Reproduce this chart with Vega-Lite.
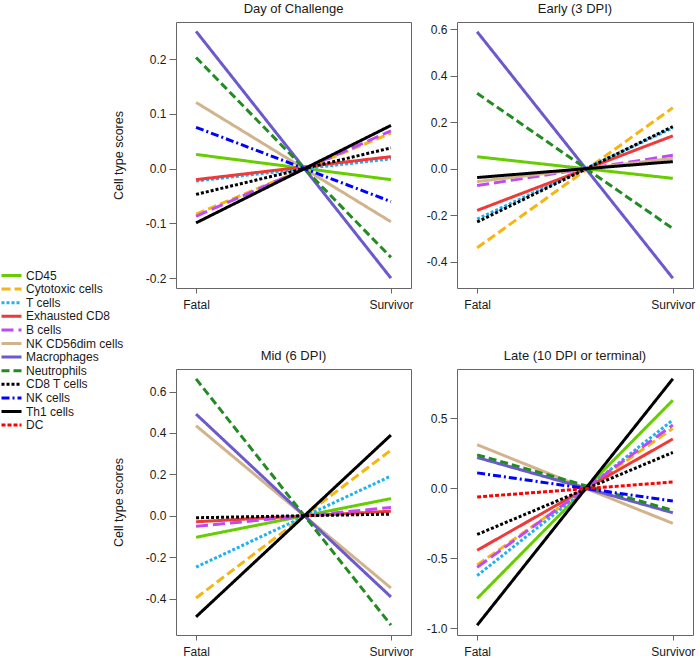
{
  "$schema": "https://vega.github.io/schema/vega-lite/v6.json",
  "padding": {"left": 0, "top": 2, "right": 0, "bottom": 0},
  "bounds": "flush",
  "columns": 2,
  "spacing": {"row": 81, "column": 46},
  "background": "white",
  "data": {"values": [
    {"panel": "P1", "cell": "CD45", "outcome": "Fatal", "score": 0.026},
    {"panel": "P1", "cell": "CD45", "outcome": "Survivor", "score": -0.020},
    {"panel": "P1", "cell": "Cytotoxic cells", "outcome": "Fatal", "score": -0.083},
    {"panel": "P1", "cell": "Cytotoxic cells", "outcome": "Survivor", "score": 0.065},
    {"panel": "P1", "cell": "T cells", "outcome": "Fatal", "score": -0.0225},
    {"panel": "P1", "cell": "T cells", "outcome": "Survivor", "score": 0.018},
    {"panel": "P1", "cell": "Exhausted CD8", "outcome": "Fatal", "score": -0.020},
    {"panel": "P1", "cell": "Exhausted CD8", "outcome": "Survivor", "score": 0.022},
    {"panel": "P1", "cell": "B cells", "outcome": "Fatal", "score": -0.087},
    {"panel": "P1", "cell": "B cells", "outcome": "Survivor", "score": 0.069},
    {"panel": "P1", "cell": "NK CD56dim cells", "outcome": "Fatal", "score": 0.121},
    {"panel": "P1", "cell": "NK CD56dim cells", "outcome": "Survivor", "score": -0.097},
    {"panel": "P1", "cell": "Macrophages", "outcome": "Fatal", "score": 0.251},
    {"panel": "P1", "cell": "Macrophages", "outcome": "Survivor", "score": -0.200},
    {"panel": "P1", "cell": "Neutrophils", "outcome": "Fatal", "score": 0.203},
    {"panel": "P1", "cell": "Neutrophils", "outcome": "Survivor", "score": -0.162},
    {"panel": "P1", "cell": "CD8 T cells", "outcome": "Fatal", "score": -0.047},
    {"panel": "P1", "cell": "CD8 T cells", "outcome": "Survivor", "score": 0.038},
    {"panel": "P1", "cell": "NK cells", "outcome": "Fatal", "score": 0.0755},
    {"panel": "P1", "cell": "NK cells", "outcome": "Survivor", "score": -0.060},
    {"panel": "P1", "cell": "Th1 cells", "outcome": "Fatal", "score": -0.099},
    {"panel": "P1", "cell": "Th1 cells", "outcome": "Survivor", "score": 0.079},

    {"panel": "P2", "cell": "CD45", "outcome": "Fatal", "score": 0.051},
    {"panel": "P2", "cell": "CD45", "outcome": "Survivor", "score": -0.042},
    {"panel": "P2", "cell": "Cytotoxic cells", "outcome": "Fatal", "score": -0.341},
    {"panel": "P2", "cell": "Cytotoxic cells", "outcome": "Survivor", "score": 0.262},
    {"panel": "P2", "cell": "T cells", "outcome": "Fatal", "score": -0.217},
    {"panel": "P2", "cell": "T cells", "outcome": "Survivor", "score": 0.175},
    {"panel": "P2", "cell": "Exhausted CD8", "outcome": "Fatal", "score": -0.180},
    {"panel": "P2", "cell": "Exhausted CD8", "outcome": "Survivor", "score": 0.141},
    {"panel": "P2", "cell": "B cells", "outcome": "Fatal", "score": -0.073},
    {"panel": "P2", "cell": "B cells", "outcome": "Survivor", "score": 0.057},
    {"panel": "P2", "cell": "NK CD56dim cells", "outcome": "Fatal", "score": -0.056},
    {"panel": "P2", "cell": "NK CD56dim cells", "outcome": "Survivor", "score": 0.044},
    {"panel": "P2", "cell": "Macrophages", "outcome": "Fatal", "score": 0.589},
    {"panel": "P2", "cell": "Macrophages", "outcome": "Survivor", "score": -0.472},
    {"panel": "P2", "cell": "Neutrophils", "outcome": "Fatal", "score": 0.324},
    {"panel": "P2", "cell": "Neutrophils", "outcome": "Survivor", "score": -0.258},
    {"panel": "P2", "cell": "CD8 T cells", "outcome": "Fatal", "score": -0.230},
    {"panel": "P2", "cell": "CD8 T cells", "outcome": "Survivor", "score": 0.181},
    {"panel": "P2", "cell": "Th1 cells", "outcome": "Fatal", "score": -0.0385},
    {"panel": "P2", "cell": "Th1 cells", "outcome": "Survivor", "score": 0.030},

    {"panel": "P3", "cell": "CD45", "outcome": "Fatal", "score": -0.104},
    {"panel": "P3", "cell": "CD45", "outcome": "Survivor", "score": 0.083},
    {"panel": "P3", "cell": "Cytotoxic cells", "outcome": "Fatal", "score": -0.397},
    {"panel": "P3", "cell": "Cytotoxic cells", "outcome": "Survivor", "score": 0.317},
    {"panel": "P3", "cell": "T cells", "outcome": "Fatal", "score": -0.248},
    {"panel": "P3", "cell": "T cells", "outcome": "Survivor", "score": 0.192},
    {"panel": "P3", "cell": "Exhausted CD8", "outcome": "Fatal", "score": -0.029},
    {"panel": "P3", "cell": "Exhausted CD8", "outcome": "Survivor", "score": 0.022},
    {"panel": "P3", "cell": "B cells", "outcome": "Fatal", "score": -0.051},
    {"panel": "P3", "cell": "B cells", "outcome": "Survivor", "score": 0.040},
    {"panel": "P3", "cell": "NK CD56dim cells", "outcome": "Fatal", "score": 0.435},
    {"panel": "P3", "cell": "NK CD56dim cells", "outcome": "Survivor", "score": -0.349},
    {"panel": "P3", "cell": "Macrophages", "outcome": "Fatal", "score": 0.491},
    {"panel": "P3", "cell": "Macrophages", "outcome": "Survivor", "score": -0.392},
    {"panel": "P3", "cell": "Neutrophils", "outcome": "Fatal", "score": 0.661},
    {"panel": "P3", "cell": "Neutrophils", "outcome": "Survivor", "score": -0.528},
    {"panel": "P3", "cell": "CD8 T cells", "outcome": "Fatal", "score": -0.0096},
    {"panel": "P3", "cell": "CD8 T cells", "outcome": "Survivor", "score": 0.008},
    {"panel": "P3", "cell": "Th1 cells", "outcome": "Fatal", "score": -0.488},
    {"panel": "P3", "cell": "Th1 cells", "outcome": "Survivor", "score": 0.390},

    {"panel": "P4", "cell": "CD45", "outcome": "Fatal", "score": -0.787},
    {"panel": "P4", "cell": "CD45", "outcome": "Survivor", "score": 0.629},
    {"panel": "P4", "cell": "Cytotoxic cells", "outcome": "Fatal", "score": -0.548},
    {"panel": "P4", "cell": "Cytotoxic cells", "outcome": "Survivor", "score": 0.428},
    {"panel": "P4", "cell": "T cells", "outcome": "Fatal", "score": -0.624},
    {"panel": "P4", "cell": "T cells", "outcome": "Survivor", "score": 0.488},
    {"panel": "P4", "cell": "Exhausted CD8", "outcome": "Fatal", "score": -0.443},
    {"panel": "P4", "cell": "Exhausted CD8", "outcome": "Survivor", "score": 0.352},
    {"panel": "P4", "cell": "B cells", "outcome": "Fatal", "score": -0.565},
    {"panel": "P4", "cell": "B cells", "outcome": "Survivor", "score": 0.452},
    {"panel": "P4", "cell": "NK CD56dim cells", "outcome": "Fatal", "score": 0.311},
    {"panel": "P4", "cell": "NK CD56dim cells", "outcome": "Survivor", "score": -0.251},
    {"panel": "P4", "cell": "Macrophages", "outcome": "Fatal", "score": 0.220},
    {"panel": "P4", "cell": "Macrophages", "outcome": "Survivor", "score": -0.175},
    {"panel": "P4", "cell": "Neutrophils", "outcome": "Fatal", "score": 0.239},
    {"panel": "P4", "cell": "Neutrophils", "outcome": "Survivor", "score": -0.158},
    {"panel": "P4", "cell": "CD8 T cells", "outcome": "Fatal", "score": -0.330},
    {"panel": "P4", "cell": "CD8 T cells", "outcome": "Survivor", "score": 0.256},
    {"panel": "P4", "cell": "NK cells", "outcome": "Fatal", "score": 0.110},
    {"panel": "P4", "cell": "NK cells", "outcome": "Survivor", "score": -0.091},
    {"panel": "P4", "cell": "Th1 cells", "outcome": "Fatal", "score": -0.978},
    {"panel": "P4", "cell": "Th1 cells", "outcome": "Survivor", "score": 0.782},
    {"panel": "P4", "cell": "DC", "outcome": "Fatal", "score": -0.062},
    {"panel": "P4", "cell": "DC", "outcome": "Survivor", "score": 0.045}
  ]},
  "config": {
    "font": "Liberation Sans",
    "view": {"stroke": "#666666", "strokeWidth": 1},
    "axis": {"grid": false, "domain": false, "tickColor": "#666666", "tickWidth": 1, "labelColor": "#1a1a1a", "labelFontSize": 12, "titleFontSize": 12.5, "titleFontWeight": "normal", "titleColor": "#1a1a1a"},
    "axisX": {"tickSize": 5, "labelPadding": 6, "labelAngle": 0},
    "axisY": {"tickSize": 7, "labelPadding": 3, "titlePadding": 20},
    "title": {"fontSize": 13, "fontWeight": "normal", "offset": 6, "color": "#1a1a1a", "anchor": "middle"},
    "legend": {"orient": "none", "legendX": -176, "legendY": 247, "title": null, "labelFontSize": 12, "labelColor": "#1a1a1a", "symbolType": "M-2,0H2", "symbolSize": 100, "symbolStrokeWidth": 3, "symbolOffset": 5, "labelOffset": 8, "rowPadding": 0.6, "padding": 0}
  },
  "concat": [
    {
      "title": "Day of Challenge",
      "width": 235, "height": 266,
      "transform": [{"filter": "datum.panel === 'P1'"}],
      "mark": {"type": "line", "strokeWidth": 3},
      "encoding": {
        "x": {"field": "outcome", "type": "nominal", "scale": {"type": "point", "padding": 0.103}, "axis": {"title": null}},
        "y": {"field": "score", "type": "quantitative", "scale": {"domain": [-0.218, 0.268], "nice": false, "zero": false}, "axis": {"values": [-0.2, -0.1, 0, 0.1, 0.2], "labelExpr": "replace(format(datum.value, '.1f'), '\u2212', '-')", "title": "Cell type scores"}},
        "color": {"field": "cell", "type": "nominal", "scale": {"domain": ["CD45", "Cytotoxic cells", "T cells", "Exhausted CD8", "B cells", "NK CD56dim cells", "Macrophages", "Neutrophils", "CD8 T cells", "NK cells", "Th1 cells", "DC"], "range": ["#66cd00", "#f5b614", "#1eb2f0", "#f03a3a", "#bf4af5", "#d2b48c", "#6a5acd", "#228b22", "#000000", "#0000ff", "#000000", "#ff0000"]}},
        "strokeDash": {"field": "cell", "type": "nominal", "scale": {"domain": ["CD45", "Cytotoxic cells", "T cells", "Exhausted CD8", "B cells", "NK CD56dim cells", "Macrophages", "Neutrophils", "CD8 T cells", "NK cells", "Th1 cells", "DC"], "range": [[1, 0], [9, 4], [3, 2], [1, 0], [12, 5], [1, 0], [1, 0], [8, 4], [3, 2], [8, 3, 2, 3], [1, 0], [4, 2]]}}
      }
    },
    {
      "title": "Early (3 DPI)",
      "width": 236, "height": 266,
      "transform": [{"filter": "datum.panel === 'P2'"}],
      "mark": {"type": "line", "strokeWidth": 3},
      "encoding": {
        "x": {"field": "outcome", "type": "nominal", "scale": {"type": "point", "padding": 0.103}, "axis": {"title": null}},
        "y": {"field": "score", "type": "quantitative", "scale": {"domain": [-0.514, 0.631], "nice": false, "zero": false}, "axis": {"values": [-0.4, -0.2, 0, 0.2, 0.4, 0.6], "labelExpr": "replace(format(datum.value, '.1f'), '\u2212', '-')", "title": null}},
        "color": {"field": "cell", "type": "nominal"},
        "strokeDash": {"field": "cell", "type": "nominal"}
      }
    },
    {
      "title": "Mid (6 DPI)",
      "width": 235, "height": 266,
      "transform": [{"filter": "datum.panel === 'P3'"}],
      "mark": {"type": "line", "strokeWidth": 3},
      "encoding": {
        "x": {"field": "outcome", "type": "nominal", "scale": {"type": "point", "padding": 0.103}, "axis": {"title": null}},
        "y": {"field": "score", "type": "quantitative", "scale": {"domain": [-0.576, 0.709], "nice": false, "zero": false}, "axis": {"values": [-0.4, -0.2, 0, 0.2, 0.4, 0.6], "labelExpr": "replace(format(datum.value, '.1f'), '\u2212', '-')", "title": "Cell type scores"}},
        "color": {"field": "cell", "type": "nominal"},
        "strokeDash": {"field": "cell", "type": "nominal"}
      }
    },
    {
      "title": "Late (10 DPI or terminal)",
      "width": 236, "height": 266,
      "transform": [{"filter": "datum.panel === 'P4'"}],
      "mark": {"type": "line", "strokeWidth": 3},
      "encoding": {
        "x": {"field": "outcome", "type": "nominal", "scale": {"type": "point", "padding": 0.103}, "axis": {"title": null}},
        "y": {"field": "score", "type": "quantitative", "scale": {"domain": [-1.048, 0.852], "nice": false, "zero": false}, "axis": {"values": [-1, -0.5, 0, 0.5], "labelExpr": "replace(format(datum.value, '.1f'), '\u2212', '-')", "title": null}},
        "color": {"field": "cell", "type": "nominal"},
        "strokeDash": {"field": "cell", "type": "nominal"}
      }
    }
  ],
  "resolve": {"scale": {"x": "independent", "y": "independent"}}
}
